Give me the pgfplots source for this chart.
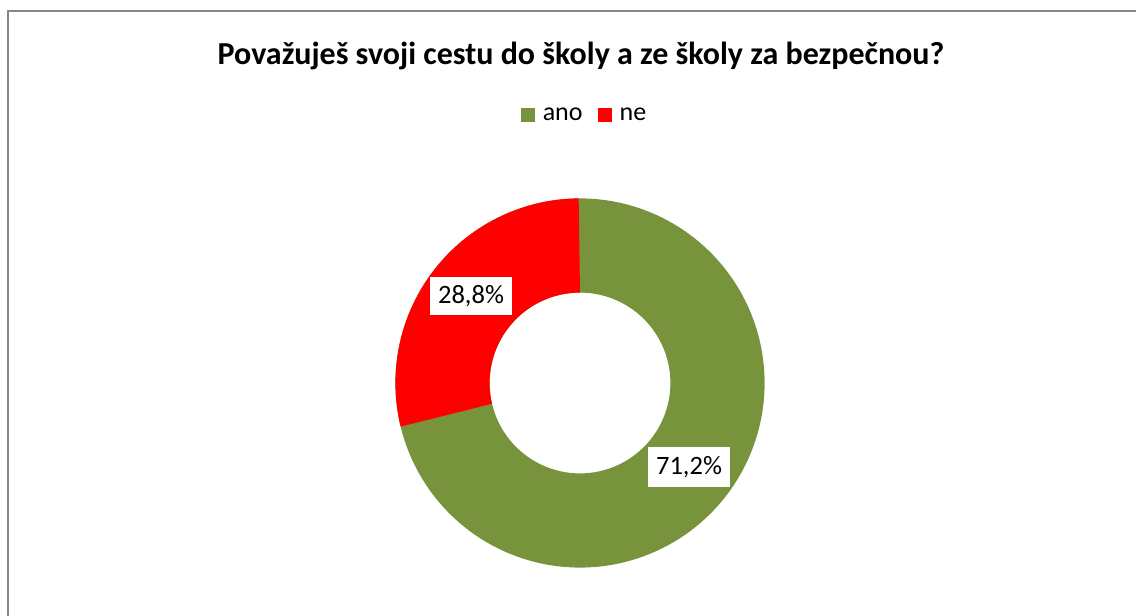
\documentclass[border=0pt]{standalone}
\usepackage{pgfplots}
\pgfplotsset{compat=1.18}
\usepackage{fontspec}
\setmainfont{Carlito}
\definecolor{anogreen}{RGB}{119,147,60}
\definecolor{nered}{RGB}{255,0,0}
\definecolor{framegray}{RGB}{134,134,134}
% data (percent)
\def\vano{71.2}
\def\vne{28.8}
\begin{document}
\begin{tikzpicture}
\pgfmathsetmacro{\aA}{90}
\pgfmathsetmacro{\aB}{90-3.6*\vano}
\pgfmathsetmacro{\aC}{\aB-3.6*\vne}
\pgfmathsetmacro{\gS}{\aA+2}
\pgfmathsetmacro{\gE}{\aC-2}
\begin{axis}[
  scale only axis, width=1136pt, height=616pt,
  xmin=0, xmax=1136, ymin=0, ymax=616,
  hide axis, clip=false,
  legend style={at={(axis cs:584.5,501)}, anchor=center, draw=none, fill=none,
    font=\fontsize{26}{28}\selectfont, legend columns=2,
    /tikz/every even column/.append style={column sep=13pt},
    inner sep=0pt, nodes={inner sep=2pt}},
  legend image code/.code={\fill[#1, draw=none] (0pt,-7pt) rectangle (14pt,7pt); \path[draw=none, fill=none] (20pt,0pt);},
]
% green ring (ano); the ne sector is drawn over it, so only the ano share stays green
\addplot[anogreen, fill=anogreen, draw=none, variable=\t,
  samples at={0,0.0025,...,1,2,2.0025,...,3}]
  ({580 + (\t<1.5 ? 184.6 : 90.4)*cos(\gS + (\t<1.5 ? \t : 3-\t)*(\gE-\gS))},
   {233 + (\t<1.5 ? 184.6 : 90.4)*sin(\gS + (\t<1.5 ? \t : 3-\t)*(\gE-\gS))}) -- cycle;
\addlegendentry{ano}
\addplot[nered, fill=nered, draw=none, variable=\t,
  samples at={0,0.005,...,1,2,2.005,...,3}]
  ({580 + (\t<1.5 ? 184.6 : 90.4)*cos(\aB + (\t<1.5 ? \t : 3-\t)*(\aC-\aB))},
   {233 + (\t<1.5 ? 184.6 : 90.4)*sin(\aB + (\t<1.5 ? \t : 3-\t)*(\aC-\aB))}) -- cycle;
\addlegendentry{ne}
\draw[framegray, line width=2.5pt] (axis cs:8,0) -- (axis cs:8,605) -- (axis cs:1136,605);
\node[font=\bfseries\fontsize{32}{34}\selectfont] at (axis cs:581,560) {Považuješ svoji cestu do školy a ze školy za bezpečnou?};
\node[fill=white, minimum width=82pt, minimum height=38pt, inner sep=0pt, font=\fontsize{26.5}{28}\selectfont] at (axis cs:471,320) {28,8\%};
\node[fill=white, minimum width=82pt, minimum height=40pt, inner sep=0pt, font=\fontsize{26.5}{28}\selectfont] at (axis cs:689,148.5) {71,2\%};
\end{axis}
\pgfresetboundingbox
\useasboundingbox (0,0) rectangle (1136pt,616pt);
\end{tikzpicture}
\end{document}
